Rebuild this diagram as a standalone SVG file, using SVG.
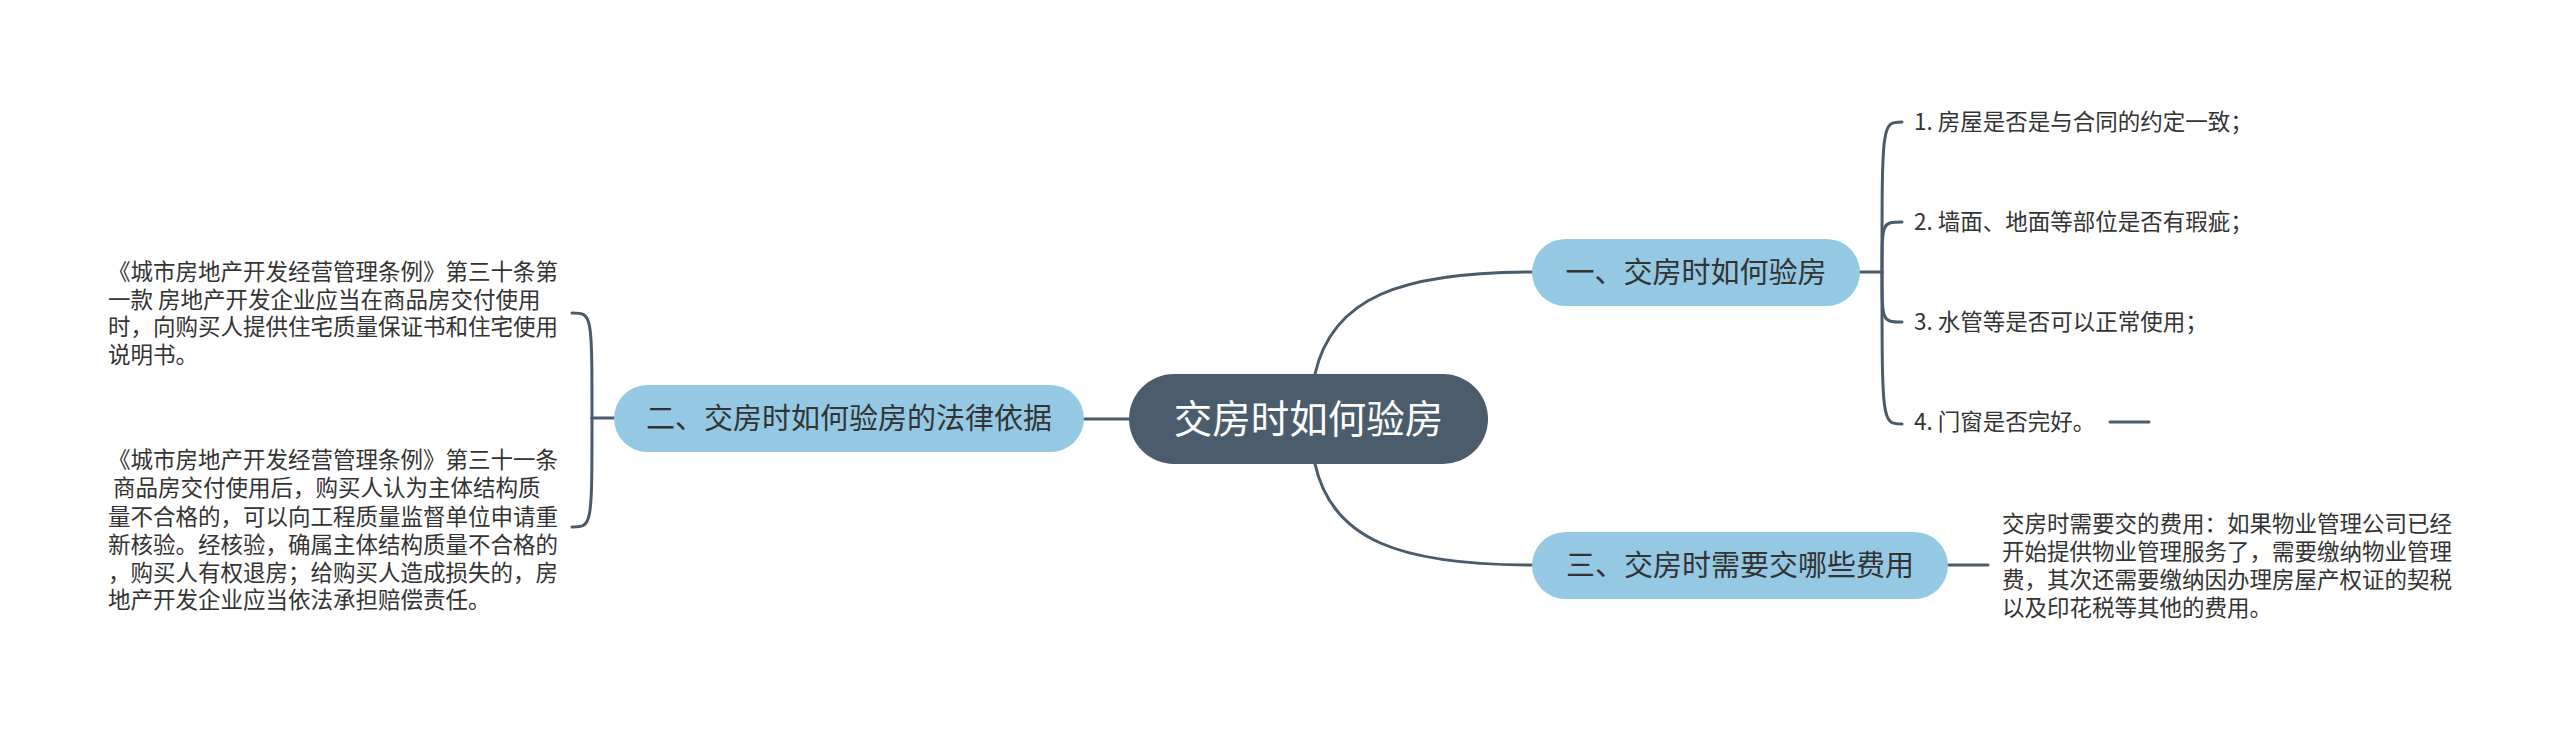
<svg xmlns="http://www.w3.org/2000/svg" width="2560" height="732" viewBox="0 0 2560 732">
<style>
.bg{fill:#ffffff}
.conn{fill:none;stroke:#4a5b6b;stroke-width:3;stroke-linecap:round}
.root{fill:#4b5d6d}
.main{fill:#95c9e3}
.rt{font-family:"Noto Sans CJK SC","Noto Sans",sans-serif;font-size:38.5px;fill:#ffffff;text-anchor:middle}
.mt{font-family:"Noto Sans CJK SC","Noto Sans",sans-serif;font-size:29px;fill:#333333;text-anchor:middle}
.lt{font-family:"Noto Sans CJK SC","Noto Sans",sans-serif;font-size:22.5px;fill:#333333;white-space:pre}
</style>
<rect class="bg" x="0" y="0" width="2560" height="732"/>
<g id="connectors">
<path class="conn" d="M1315,374 C1332,298 1400,272 1532,272"/>
<path class="conn" d="M1315,464 C1332,540 1400,565 1532,565"/>
<path class="conn" d="M1084,419 L1129,419"/>
<path class="conn" d="M1860,272 L1882,272"/>
<path class="conn" d="M1882,272 C1882,122 1882,122 1902,122"/>
<path class="conn" d="M1882,272 C1882,222 1882,222 1902,222"/>
<path class="conn" d="M1882,272 C1882,322 1882,322 1902,322"/>
<path class="conn" d="M1882,272 C1882,424 1882,424 1902,424"/>
<path class="conn" d="M2110,422 L2149,422"/>
<path class="conn" d="M1948,565 L1988,565"/>
<path class="conn" d="M614,418 L592,418"/>
<path class="conn" d="M592,418 C592,313 592,313 572,313"/>
<path class="conn" d="M592,418 C592,527 592,527 572,527"/>
</g>
<g id="root">
<rect class="root" x="1129" y="374" width="359" height="90" rx="45"/>
<text class="rt" x="1308.5" y="433">交房时如何验房</text>
</g>
<g id="n1">
<rect class="main" x="1532" y="239" width="328" height="67" rx="33.5"/>
<text class="mt" x="1696" y="283">一、交房时如何验房</text>
</g>
<g id="n2">
<rect class="main" x="614" y="385" width="470" height="67" rx="33.5"/>
<text class="mt" x="849" y="429">二、交房时如何验房的法律依据</text>
</g>
<g id="n3">
<rect class="main" x="1532" y="532" width="416" height="67" rx="33.5"/>
<text class="mt" x="1740" y="576">三、交房时需要交哪些费用</text>
</g>
<g id="n1-1"><text class="lt" x="1914" y="130">1. 房屋是否是与合同的约定一致；</text></g>
<g id="n1-2"><text class="lt" x="1914" y="230">2. 墙面、地面等部位是否有瑕疵；</text></g>
<g id="n1-3"><text class="lt" x="1914" y="330">3. 水管等是否可以正常使用；</text></g>
<g id="n1-4"><text class="lt" x="1914" y="430">4. 门窗是否完好。</text></g>
<g id="n3-1">
<text class="lt" x="2002" y="532">交房时需要交的费用：如果物业管理公司已经</text>
<text class="lt" x="2002" y="560">开始提供物业管理服务了，需要缴纳物业管理</text>
<text class="lt" x="2002" y="588">费，其次还需要缴纳因办理房屋产权证的契税</text>
<text class="lt" x="2002" y="616">以及印花税等其他的费用。</text>
</g>
<g id="n2-1">
<text class="lt" x="108" y="280">《城市房地产开发经营管理条例》第三十条第</text>
<text class="lt" x="108" y="308">一款 房地产开发企业应当在商品房交付使用</text>
<text class="lt" x="108" y="335">时，向购买人提供住宅质量保证书和住宅使用</text>
<text class="lt" x="108" y="363">说明书。</text>
</g>
<g id="n2-2">
<text class="lt" x="108" y="468">《城市房地产开发经营管理条例》第三十一条</text>
<text class="lt" x="108" y="496"> 商品房交付使用后，购买人认为主体结构质</text>
<text class="lt" x="108" y="525">量不合格的，可以向工程质量监督单位申请重</text>
<text class="lt" x="108" y="553">新核验。经核验，确属主体结构质量不合格的</text>
<text class="lt" x="108" y="581">，购买人有权退房；给购买人造成损失的，房</text>
<text class="lt" x="108" y="608">地产开发企业应当依法承担赔偿责任。</text>
</g>
</svg>
